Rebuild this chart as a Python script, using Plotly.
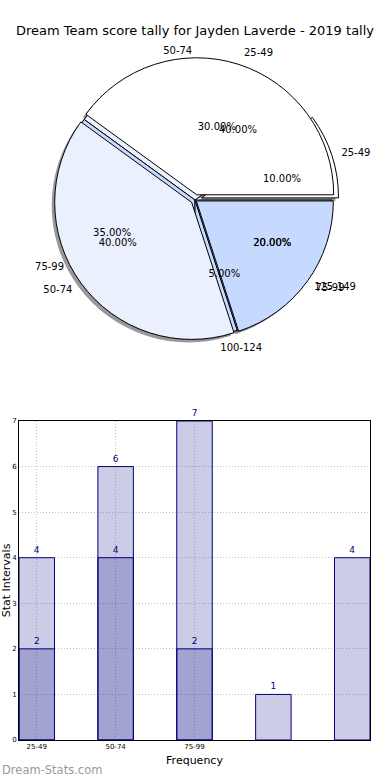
import plotly.graph_objects as go

# ---------------- data ----------------
TITLE = "Dream Team score tally for Jayden Laverde - 2019 tally"

pie_a_labels = ["25-49", "50-74", "75-99"]
pie_a_values = [4, 4, 2]
pie_b_labels = ["25-49", "50-74", "75-99", "100-124", "125-149"]
pie_b_values = [2, 6, 7, 1, 4]

bar_categories = ["25-49", "50-74", "75-99", "100-124", "125-149"]
bar_a_values = [4, 4, 2]
bar_b_values = [2, 6, 7, 1, 4]
tick_labels = ["25-49", "50-74", "75-99"]

x_title = "Frequency"
y_title = "Stat Intervals"
watermark = "Dream-Stats.com"

# ---------------- style ----------------
W, H = 390, 780
FONT = "DejaVu Sans"
pie_a_colors = ["#ffffff", "#eaf0fd", "#c6d9ff"]
pie_b_colors = ["#ffffff", "#eaf0fd", "#c6d9ff", "#c6d9ff", "#c6d9ff"]
pie_a_pull = [0.04, 0.03, 0.012]
pie_b_pull = [0.05, 0, 0, 0, 0]
CX, CY, R = 195, 200, 137
SHADOW = "rgba(70,70,70,0.55)"
CLEAR = "rgba(0,0,0,0)"


def dom(cx, cy, half):
    return dict(x=[(cx - half) / W, (cx + half) / W],
                y=[1 - (cy + half) / H, 1 - (cy - half) / H])


def pie(labels, values, pull, colors, r, dx=0, dy=0, line=None, nudge=0.0, **kw):
    half = r * (1 + max(pull))
    # first wedge starts at 3 o'clock and wedges run counter-clockwise
    rot = 90 - 360 * values[0] / sum(values) - nudge
    return go.Pie(labels=labels, values=values, pull=pull, sort=False,
                  direction="counterclockwise", rotation=rot,
                  domain=dom(CX + dx, CY + dy, half),
                  marker=dict(colors=colors, line=line or dict(width=0)),
                  showlegend=False, hoverinfo="skip", **kw)


fig = go.Figure()

# shadows
fig.add_trace(pie(pie_b_labels, pie_b_values, pie_b_pull, [SHADOW] * len(pie_b_values), R,
                  dx=-3, dy=3, textinfo="none"))
fig.add_trace(pie(pie_a_labels, pie_a_values, pie_a_pull, [SHADOW] * len(pie_a_values), R,
                  dx=-3, dy=3, textinfo="none"))
# pies
edge = dict(color="black", width=1)
fig.add_trace(pie(pie_b_labels, pie_b_values, pie_b_pull, pie_b_colors, R, line=edge, textinfo="none"))
fig.add_trace(pie(pie_a_labels, pie_a_values, pie_a_pull, pie_a_colors, R, line=edge, textinfo="none"))

# percentage texts
for labels, values in ((pie_b_labels, pie_b_values), (pie_a_labels, pie_a_values)):
    fig.add_trace(pie(labels, values, [0] * len(values), [CLEAR] * len(values), R * 0.5,
                      texttemplate="%{percent:.2%}", textposition="outside",
                      outsidetextfont=dict(family=FONT, size=10, color="black")))
# category labels
for labels, values, pull in ((pie_b_labels, pie_b_values, pie_b_pull),
                             (pie_a_labels, pie_a_values, pie_a_pull)):
    fig.add_trace(pie(labels, values, pull, [CLEAR] * len(values), R * 1.05, nudge=0.01,
                      texttemplate="%{label}", textposition="outside",
                      outsidetextfont=dict(family=FONT, size=10, color="black")))

# bars
bar_fill = "rgba(0,0,128,0.2)"
for vals in (bar_b_values, bar_a_values):
    fig.add_trace(go.Bar(
        x=list(range(len(vals))), y=vals, width=0.45,
        marker=dict(color=bar_fill, line=dict(color="#000080", width=1)),
        text=vals, texttemplate="%{y}", textposition="outside",
        textfont=dict(family=FONT, size=9, color="#000080"),
        constraintext="none", cliponaxis=False, showlegend=False, hoverinfo="skip",
        xaxis="x", yaxis="y"))

axis_common = dict(showgrid=True, gridcolor="#c4c4c4", griddash="1px,2px", gridwidth=1,
                   showline=True, mirror=True, linecolor="black", linewidth=1,
                   zeroline=False, ticks="", automargin=False,
                   tickfont=dict(family=FONT, size=7, color="black"))

fig.update_layout(
    width=W, height=H,
    margin=dict(l=0, r=0, t=0, b=0, autoexpand=False),
    paper_bgcolor="white", plot_bgcolor="white",
    font=dict(family=FONT, color="black"),
    barmode="overlay",
    showlegend=False,
    title=dict(text=TITLE, x=0.5, xref="paper", xanchor="center", y=1 - 30 / H, yanchor="middle",
               font=dict(family=FONT, size=13, color="black")),
    xaxis=dict(domain=[19 / W, 370 / W], range=[-0.225, len(bar_categories) - 1 + 0.225],
               tickmode="array", tickvals=list(range(len(tick_labels))), ticktext=tick_labels,
               title=dict(text=x_title, standoff=5, font=dict(family=FONT, size=11)),
               **axis_common),
    yaxis=dict(domain=[1 - 740 / H, 1 - 421 / H], range=[0, 7], dtick=1,
               title=dict(text=y_title, standoff=1, font=dict(family=FONT, size=11)),
               **axis_common),
    annotations=[dict(text=watermark, xref="paper", yref="paper", x=0, y=0,
                      xanchor="left", yanchor="bottom", showarrow=False, yshift=1,
                      font=dict(family=FONT, size=11.5, color="#9a9a9a"))],
)

fig.write_html("out.html", config={"displayModeBar": False},
               post_script="document.body.style.margin='0';")
